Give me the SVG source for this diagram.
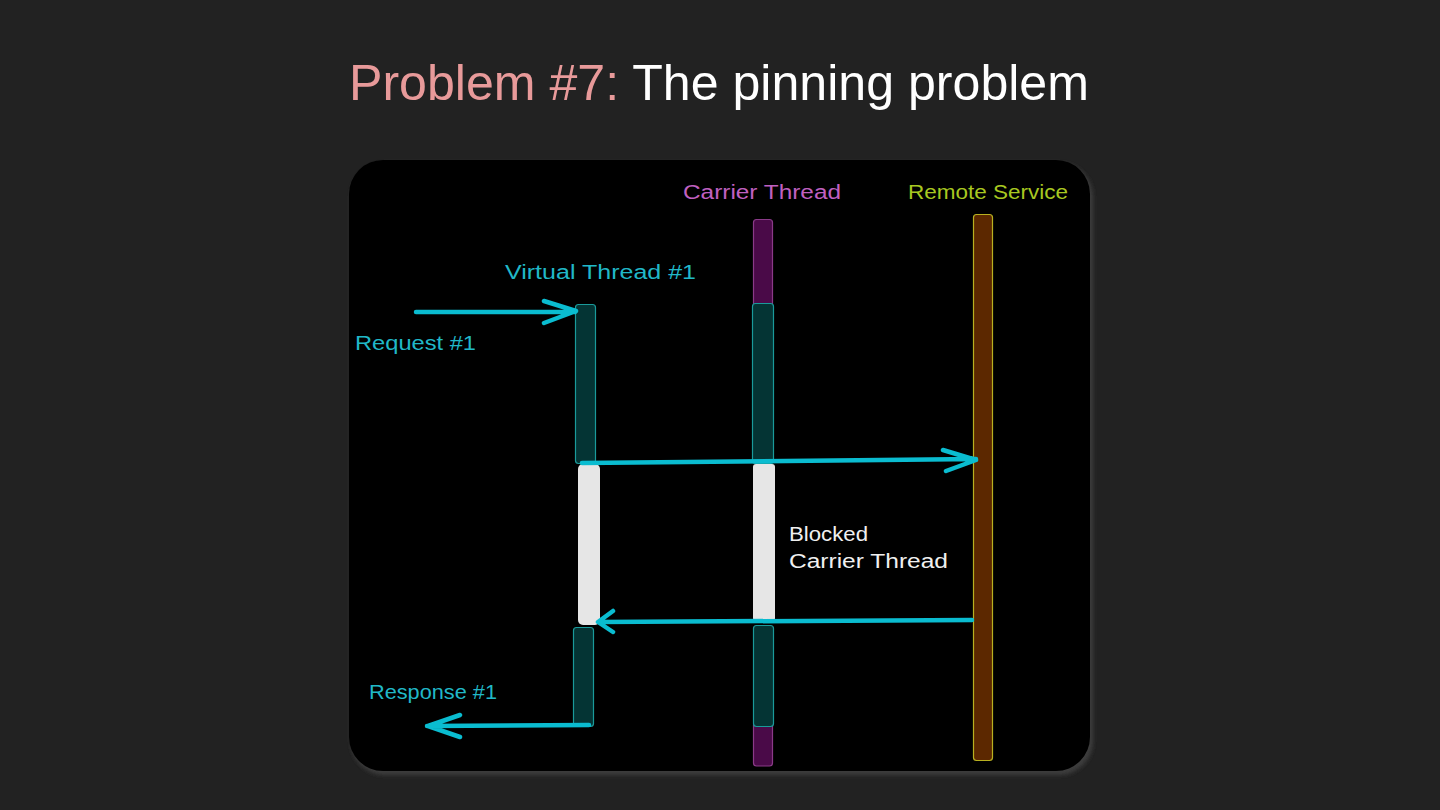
<svg xmlns="http://www.w3.org/2000/svg" width="1440" height="810" viewBox="0 0 1440 810">
<defs>
<style>
.hand{font-family:"Liberation Sans","DejaVu Sans",sans-serif;font-size:20px}
.teal{fill:#043434;stroke:#1a9a9a;stroke-width:1.2}
.purp{fill:#4a0a48;stroke:#8a3a88;stroke-width:1.2}
.blk{fill:#e6e6e6}
.arr{fill:none;stroke:#0abcd0;stroke-width:4.5;stroke-linecap:round;stroke-linejoin:round}
</style>
<filter id="sh" x="-5%" y="-5%" width="110%" height="110%"><feGaussianBlur stdDeviation="2"/></filter>
</defs>
<rect width="1440" height="810" fill="#222222"/>
<text x="719" y="100" text-anchor="middle" font-family="'Liberation Sans',Arial,sans-serif" font-size="50" textLength="740" lengthAdjust="spacingAndGlyphs"><tspan fill="#e89a9a">Problem #7:</tspan><tspan fill="#ffffff"> The pinning problem</tspan></text>
<rect x="351" y="163" width="742" height="612" rx="34" fill="#3c3c3c" filter="url(#sh)"/>
<rect x="349" y="160" width="741" height="611" rx="34" fill="#000000"/>

<g id="carrier-thread">
<text class="hand" x="683" y="199" fill="#c060c0" textLength="158" lengthAdjust="spacingAndGlyphs">Carrier Thread</text>
<rect class="purp" x="753.5" y="219.5" width="19" height="88" rx="3"/>
<rect class="teal" x="752.5" y="303.5" width="21" height="160" rx="3"/>
<rect class="blk" x="753" y="464" width="22" height="157" rx="3"/>
<rect class="purp" x="753.5" y="722" width="19" height="44" rx="3"/>
<rect class="teal" x="753.5" y="625.5" width="20" height="101" rx="3"/>
</g>

<g id="remote-service">
<text class="hand" x="908" y="199" fill="#a8c820" textLength="160" lengthAdjust="spacingAndGlyphs">Remote Service</text>
<rect x="973.5" y="214.5" width="19" height="546" rx="3" fill="#5c2800" stroke="#b8b020" stroke-width="1.2"/>
</g>

<g id="virtual-thread">
<text class="hand" x="505" y="279" fill="#20b8c8" textLength="191" lengthAdjust="spacingAndGlyphs">Virtual Thread #1</text>
<rect class="teal" x="575.5" y="304.5" width="20" height="159" rx="3"/>
<rect class="blk" x="578" y="464" width="22" height="161" rx="5"/>
<rect class="teal" x="573.5" y="627.5" width="20" height="99" rx="3"/>
</g>

<g id="blocked-label">
<text class="hand" x="789" y="541" fill="#f0f0f0" textLength="79" lengthAdjust="spacingAndGlyphs">Blocked</text>
<text class="hand" x="789" y="568" fill="#f0f0f0" textLength="159" lengthAdjust="spacingAndGlyphs">Carrier Thread</text>
</g>

<g id="request-label">
<text class="hand" x="355" y="350" fill="#20b8c8" textLength="121" lengthAdjust="spacingAndGlyphs">Request #1</text>
</g>
<g id="response-label">
<text class="hand" x="369" y="699" fill="#20b8c8" textLength="128" lengthAdjust="spacingAndGlyphs">Response #1</text>
</g>

<g id="connectors">
<path class="arr" d="M416 312 L575 312 M544 301 L576 311 L544 323"/>
<path class="arr" d="M582 463 L976 459 M943 450 L976 460 L946 471"/>
<path class="arr" d="M972 620 L599 622 M613 611 L598 622 L613 632"/>
<path class="arr" d="M589 725 L427 726 M460 715 L428 726 L460 737"/>
</g>
</svg>
